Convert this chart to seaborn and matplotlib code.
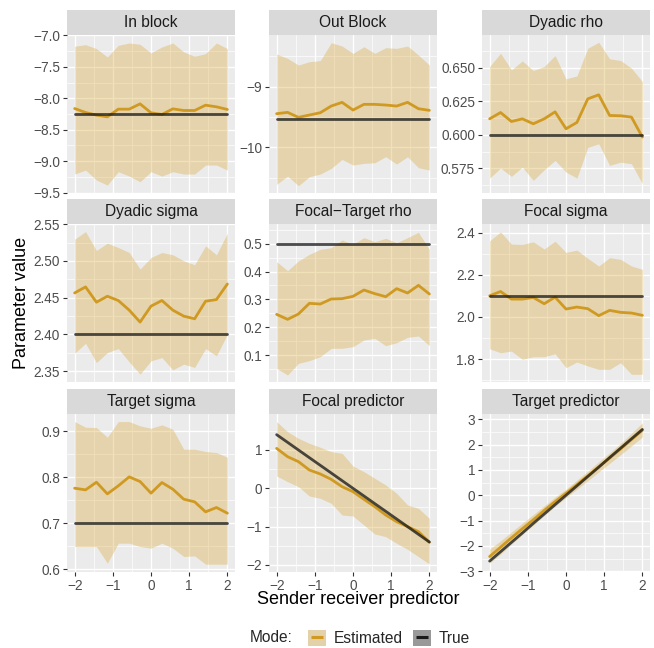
import numpy as np
import pandas as pd
import matplotlib
matplotlib.use("Agg")
import matplotlib.pyplot as plt
from matplotlib.patches import Rectangle, Patch
from matplotlib.lines import Line2D
from matplotlib.ticker import MultipleLocator, FuncFormatter
import seaborn as sns

# x values of the simulation grid
x_vals = [-2.0, -1.714, -1.429, -1.143, -0.857, -0.571, -0.286, 0.0,
          0.286, 0.571, 0.857, 1.143, 1.429, 1.714, 2.0]

titles = ["In block", "Out Block", "Dyadic rho", "Dyadic sigma",
          "Focal\u2212Target rho", "Focal sigma", "Target sigma",
          "Focal predictor", "Target predictor"]

# estimated means
est_inblock = [-8.163, -8.226, -8.268, -8.295, -8.173, -8.173, -8.089, -8.231,
               -8.258, -8.168, -8.194, -8.194, -8.110, -8.136, -8.178]
est_outblock = [-9.445, -9.423, -9.505, -9.467, -9.429, -9.319, -9.258, -9.385,
                -9.291, -9.291, -9.302, -9.319, -9.258, -9.363, -9.390]
est_dyrho = [0.6119, 0.6166, 0.6099, 0.6119, 0.6082, 0.6119, 0.6171, 0.6045,
             0.6092, 0.6268, 0.6298, 0.6144, 0.6142, 0.6132, 0.5983]
est_dysigma = [2.4564, 2.4646, 2.4438, 2.4519, 2.4461, 2.4330, 2.4167, 2.4384,
               2.4461, 2.4330, 2.4248, 2.4212, 2.4451, 2.4474, 2.4686]
est_ftrho = [0.2461, 0.2281, 0.2473, 0.2856, 0.2832, 0.3012, 0.3024, 0.3108,
             0.3335, 0.3204, 0.3096, 0.3383, 0.3228, 0.3503, 0.3192]
est_fsigma = [2.1005, 2.1209, 2.0848, 2.0848, 2.0927, 2.0628, 2.0942, 2.0377,
              2.0471, 2.0393, 2.0063, 2.0314, 2.0220, 2.0188, 2.0079]
est_tsigma = [0.7759, 0.7723, 0.7889, 0.7636, 0.7810, 0.8005, 0.7904, 0.7651,
              0.7882, 0.7738, 0.7521, 0.7463, 0.7246, 0.7340, 0.7217]
est_fpred = [1.043, 0.826, 0.696, 0.478, 0.374, 0.235, 0.043, -0.087,
             -0.287, -0.478, -0.696, -0.870, -1.000, -1.130, -1.409]
est_tpred = [-2.42, -2.05, -1.68, -1.32, -0.97, -0.60, -0.25, 0.08,
             0.42, 0.77, 1.12, 1.47, 1.83, 2.20, 2.57]

# upper / lower bounds of the ribbons
hi_inblock = [-7.174, -7.148, -7.211, -7.344, -7.159, -7.122, -7.143, -7.280,
              -7.185, -7.122, -7.264, -7.333, -7.291, -7.122, -7.211]
lo_inblock = [-9.204, -9.141, -9.299, -9.379, -9.167, -9.236, -9.326, -9.167,
              -9.236, -9.167, -9.204, -9.204, -9.061, -9.061, -9.141]
hi_outblock = [-8.462, -8.533, -8.643, -8.588, -8.571, -8.275, -8.330, -8.451,
               -8.341, -8.451, -8.357, -8.368, -8.330, -8.478, -8.643]
lo_outblock = [-10.610, -10.473, -10.632, -10.484, -10.440, -10.346, -10.198, -10.291,
               -10.264, -10.253, -10.154, -10.275, -10.154, -10.335, -10.374]
hi_dyrho = [0.6509, 0.6608, 0.6484, 0.6551, 0.6479, 0.6509, 0.6591, 0.6417,
            0.6439, 0.6645, 0.6690, 0.6566, 0.6554, 0.6497, 0.6397]
lo_dyrho = [0.5677, 0.5752, 0.5690, 0.5759, 0.5660, 0.5739, 0.5809, 0.5722,
            0.5677, 0.5906, 0.5933, 0.5772, 0.5796, 0.5784, 0.5635]
hi_dysigma = [2.5296, 2.5400, 2.5142, 2.5242, 2.5183, 2.5115, 2.4889, 2.5047,
              2.5115, 2.5084, 2.5002, 2.4948, 2.5205, 2.5084, 2.5377]
lo_dysigma = [2.3743, 2.3878, 2.3616, 2.3752, 2.3806, 2.3625, 2.3458, 2.3639,
              2.3684, 2.3517, 2.3594, 2.3549, 2.3806, 2.3707, 2.4000]
hi_ftrho = [0.4353, 0.4030, 0.4377, 0.4617, 0.4796, 0.4856, 0.5132, 0.4976,
            0.5216, 0.5072, 0.5192, 0.5036, 0.5216, 0.5407, 0.4796]
lo_ftrho = [0.0521, 0.0281, 0.0701, 0.0796, 0.0940, 0.1240, 0.1240, 0.1299,
            0.1539, 0.1599, 0.1335, 0.1443, 0.1635, 0.1683, 0.1335]
hi_fsigma = [2.3612, 2.4036, 2.3455, 2.3440, 2.3565, 2.3220, 2.3597, 2.3063,
             2.3173, 2.2780, 2.2419, 2.2811, 2.2733, 2.2419, 2.2262]
lo_fsigma = [1.8492, 1.8304, 1.8382, 1.7990, 1.8115, 1.8115, 1.8257, 1.7597,
             1.7864, 1.7676, 1.7518, 1.7518, 1.7833, 1.7283, 1.7283]
hi_tsigma = [0.9205, 0.9082, 0.9075, 0.8865, 0.9205, 0.9205, 0.9111, 0.9060,
             0.9133, 0.9039, 0.8605, 0.8605, 0.8555, 0.8533, 0.8432]
lo_tsigma = [0.6494, 0.6494, 0.6494, 0.6132, 0.6566, 0.6566, 0.6494, 0.6458,
             0.6566, 0.6458, 0.6277, 0.6291, 0.6111, 0.6111, 0.6111]
hi_fpred = [1.739, 1.478, 1.304, 1.174, 1.070, 0.957, 0.913, 0.583,
            0.435, 0.261, 0.087, -0.130, -0.435, -0.522, -0.783]
lo_fpred = [0.322, 0.174, 0.043, -0.200, -0.261, -0.391, -0.696, -0.722,
            -0.957, -1.191, -1.261, -1.435, -1.591, -1.783, -1.974]
hi_tpred = [-2.12, -1.80, -1.45, -1.10, -0.76, -0.42, -0.07, 0.24,
            0.60, 0.95, 1.32, 1.68, 2.05, 2.45, 2.86]
lo_tpred = [-2.68, -2.32, -1.93, -1.55, -1.18, -0.80, -0.43, -0.09,
            0.24, 0.58, 0.92, 1.26, 1.60, 1.95, 2.30]

# true parameter values
true_inblock = [-8.25] * 15
true_outblock = [-9.53] * 15
true_dyrho = [0.6] * 15
true_dysigma = [2.4] * 15
true_ftrho = [0.5] * 15
true_fsigma = [2.1] * 15
true_tsigma = [0.7] * 15
true_fpred = [1.4, 1.2, 1.0, 0.8, 0.6, 0.4, 0.2, 0.0,
              -0.2, -0.4, -0.6, -0.8, -1.0, -1.2, -1.4]
true_tpred = [-2.6, -2.23, -1.86, -1.49, -1.11, -0.74, -0.37, 0.0,
              0.37, 0.74, 1.11, 1.49, 1.86, 2.23, 2.6]

est = [est_inblock, est_outblock, est_dyrho, est_dysigma, est_ftrho,
       est_fsigma, est_tsigma, est_fpred, est_tpred]
hi = [hi_inblock, hi_outblock, hi_dyrho, hi_dysigma, hi_ftrho,
      hi_fsigma, hi_tsigma, hi_fpred, hi_tpred]
lo = [lo_inblock, lo_outblock, lo_dyrho, lo_dysigma, lo_ftrho,
      lo_fsigma, lo_tsigma, lo_fpred, lo_tpred]
true = [true_inblock, true_outblock, true_dyrho, true_dysigma, true_ftrho,
        true_fsigma, true_tsigma, true_fpred, true_tpred]

# y range, tick step and decimals per panel (free y scales)
ylims = [(-9.505, -6.995), (-10.752, -8.148), (0.5566, 0.6744),
         (2.3351, 2.5503), (0.003, 0.5707), (1.6916, 2.441),
         (0.5941, 0.9369), (-2.183, 1.939), (-3.03, 3.21)]
steps = [0.5, 1.0, 0.025, 0.05, 0.1, 0.2, 0.1, 1.0, 1.0]
decimals = [1, 0, 3, 2, 1, 1, 1, 0, 0]

gold = "#D09A22"
ribbon = "#D9A938"


def minus_fmt(nd):
    return FuncFormatter(lambda v, p: f"{v:.{nd}f}".replace("-", "\u2212"))


sns.set_theme(style="darkgrid", rc={"axes.facecolor": "#EBEBEB",
                                    "grid.color": "white"})
plt.rcParams["font.family"] = ["Liberation Sans", "DejaVu Sans"]

W, H = 654, 648
fig = plt.figure(figsize=(W / 100, H / 100), dpi=100)

col_left = [67, 269, 482]
row_top = [35, 224, 414]
pw, ph = 168, 158
strip_h = 25

for i in range(9):
    r, c = divmod(i, 3)
    ax = fig.add_axes([col_left[c] / W, 1 - (row_top[r] + ph) / H, pw / W, ph / H])
    df = pd.DataFrame({"x": x_vals * 2,
                       "value": est[i] + true[i],
                       "Mode": ["Estimated"] * 15 + ["True"] * 15})
    ax.fill_between(x_vals, lo[i], hi[i], color=ribbon, alpha=0.35, lw=0, zorder=2)
    sns.lineplot(data=df, x="x", y="value", hue="Mode",
                 palette={"Estimated": gold, "True": "#1A1A1A"},
                 ax=ax, legend=False, lw=2.0, zorder=3)
    ax.lines[-1].set_alpha(0.78)
    ax.set_xlim(-2.2, 2.2)
    ax.set_ylim(*ylims[i])
    ax.xaxis.set_major_locator(MultipleLocator(1))
    ax.xaxis.set_minor_locator(MultipleLocator(0.5))
    ax.xaxis.set_major_formatter(minus_fmt(0))
    ax.yaxis.set_major_locator(MultipleLocator(steps[i]))
    ax.yaxis.set_minor_locator(MultipleLocator(steps[i] / 2))
    ax.yaxis.set_major_formatter(minus_fmt(decimals[i]))
    ax.grid(which="major", color="white", lw=1.0, zorder=0)
    ax.grid(which="minor", color="white", lw=0.5, zorder=0)
    ax.set_axisbelow(True)
    for s in ax.spines.values():
        s.set_visible(False)
    ax.tick_params(axis="both", which="major", length=3, width=0.8,
                   color="#333333", labelcolor="#4D4D4D", labelsize=9.8, pad=2)
    ax.tick_params(axis="both", which="minor", length=0)
    ax.tick_params(axis="y", left=True)
    if r < 2:
        ax.tick_params(axis="x", bottom=False, labelbottom=False)
    else:
        ax.tick_params(axis="x", bottom=True)
    ax.set_xlabel("")
    ax.set_ylabel("")
    # facet strip
    sh = strip_h / ph
    ax.add_patch(Rectangle((0, 1), 1, sh, transform=ax.transAxes,
                           facecolor="#D9D9D9", edgecolor="none", clip_on=False))
    ax.text(0.5, 1 + sh / 2, titles[i], transform=ax.transAxes, ha="center",
            va="center", fontsize=11.2, color="#1A1A1A")

fig.text(358.5 / W, 1 - 600 / H, "Sender receiver predictor", ha="center",
         va="center", fontsize=13, color="black")
fig.text(22 / W, 1 - 303 / H, "Parameter value", ha="center", va="center",
         rotation=90, fontsize=13, color="black")

# legend: square keys with a short line across
h_est = (Patch(facecolor="#E3D2A9", edgecolor="none"),
         Line2D([], [], color=gold, marker="_", markersize=9,
                markeredgewidth=2.2, linestyle="none"))
h_true = (Patch(facecolor="#999999", edgecolor="none"),
          Line2D([], [], color="#1A1A1A", marker="_", markersize=9,
                 markeredgewidth=2.2, linestyle="none"))
fig.text(250 / W, 1 - 638 / H, "Mode:", ha="left", va="center", fontsize=11.2)
fig.legend([h_est, h_true], ["Estimated", "True"], ncol=2, frameon=False,
           loc="center left", bbox_to_anchor=(300 / W, 1 - 638 / H),
           fontsize=11.2, handlelength=1.2, handleheight=1.2,
           columnspacing=0.6, handletextpad=0.5, borderpad=0)

fig.savefig("out.png", dpi=100)
